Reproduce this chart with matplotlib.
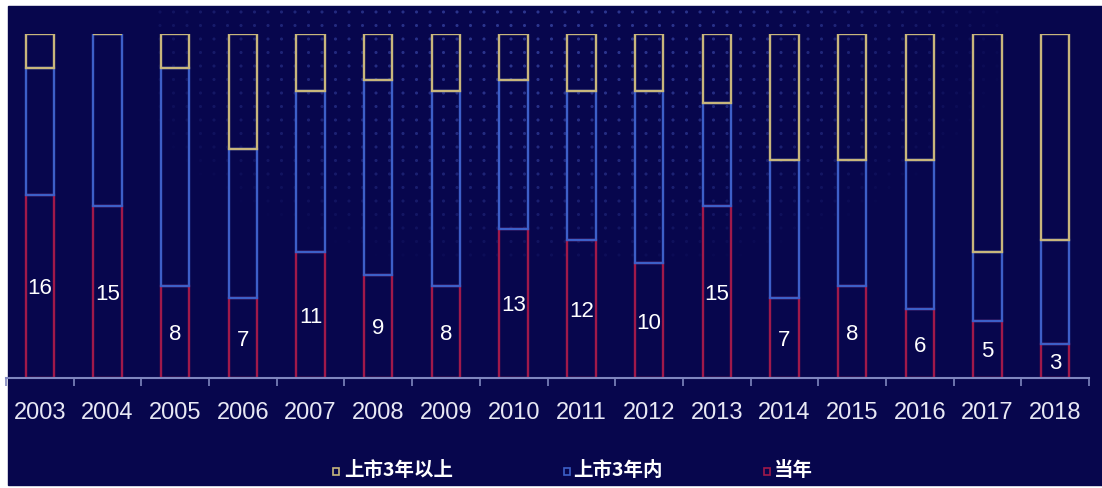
import numpy as np
import matplotlib
matplotlib.use("Agg")
from matplotlib import pyplot as plt
from matplotlib.patches import Rectangle

plt.rcParams["font.family"] = ["Liberation Sans", "Noto Sans CJK SC", "DejaVu Sans"]

years = ["2003", "2004", "2005", "2006", "2007", "2008", "2009", "2010",
         "2011", "2012", "2013", "2014", "2015", "2016", "2017", "2018"]
# counts out of the top 30 each year
new_year = [16, 15, 8, 7, 11, 9, 8, 13, 12, 10, 15, 7, 8, 6, 5, 3]
within_3y = [11, 15, 19, 13, 14, 17, 17, 13, 13, 15, 9, 12, 11, 13, 6, 9]
over_3y = [3, 0, 3, 10, 5, 4, 5, 4, 5, 5, 6, 11, 11, 11, 19, 18]
legend_labels = ["上市3年以上", "上市3年内", "当年"]

BG = "#07064d"
C_RED = "#a0194a"
C_BLUE = "#3d5fc8"
C_YEL = "#c8b67c"
W, H = 1102, 488

fig = plt.figure(figsize=(W / 100, H / 100), dpi=100, facecolor="white")

# dark panel plus a faint dotted texture in its upper part
bg = fig.add_axes([0, 0, 1, 1], zorder=0)
bg.set_xlim(0, W)
bg.set_ylim(H, 0)
bg.axis("off")
bg.add_patch(Rectangle((8, 6), W - 8, 485 - 6, color=BG, zorder=0))
gx, gy = np.meshgrid(np.arange(160, 1010, 13.5), np.arange(12, 260, 13.5))
fade = np.clip(1 - ((gx - 560) / 460) ** 2 - ((gy - 20) / 260) ** 2, 0, 1)
bg.scatter(gx.ravel(), gy.ravel(), s=5, color="#4050b4", alpha=0.65 * fade.ravel(),
           linewidths=0, zorder=1)

ax = fig.add_axes([6 / W, 1 - 378 / H, (1089 - 6) / W, (378 - 34) / H], zorder=2)
ax.patch.set_alpha(0)
x = np.arange(len(years))
bw = 0.42
lw = 1.7

red = np.array(new_year)
blue = np.array(within_3y)
yel = np.array(over_3y)

ax.bar(x, red, bw, facecolor="none", edgecolor=C_RED, linewidth=lw)
ax.bar(x, blue, bw, bottom=red, facecolor="none", edgecolor=C_BLUE, linewidth=lw)
ax.bar(x, yel, bw, bottom=red + blue, facecolor="none", edgecolor=C_YEL, linewidth=lw)

for xi, v in zip(x, red):
    ax.text(xi, v / 2, str(v), ha="center", va="center_baseline", color="white", fontsize=16)

ax.set_xlim(-0.5, len(years) - 0.5)
ax.set_ylim(0, 30)
ax.set_yticks([])
for s in ["top", "right", "left"]:
    ax.spines[s].set_visible(False)
ax.spines["bottom"].set_color("#7f86bf")
ax.spines["bottom"].set_linewidth(1.5)
ax.spines["bottom"].set_zorder(5)

ax.set_xticks(x)
ax.set_xticklabels(years, fontsize=17, color="#e8e8f4")
ax.tick_params(axis="x", which="major", length=0, pad=17)
ax.set_xticks(np.arange(-0.5, len(years), 1), minor=True)
ax.tick_params(axis="x", which="minor", length=6, width=1.2, color="#7f86bf", direction="out")

# legend along the bottom
leg_y = 1 - 471 / H
for (mx, tx), lab, c in zip([(336, 344), (567, 573), (767, 774)], legend_labels,
                             [C_YEL, C_BLUE, C_RED]):
    fig.patches.append(Rectangle(((mx - 3) / W, leg_y - 3.5 / H), 6 / W, 7 / H,
                                 transform=fig.transFigure, facecolor="none",
                                 edgecolor=c, linewidth=1.2, zorder=3))
    fig.text(tx / W, leg_y, lab, ha="left", va="center", color="white", fontsize=14,
             fontweight="bold", family=["Noto Sans CJK SC", "DejaVu Sans"], zorder=3)

fig.savefig("out.png", dpi=100, facecolor="white")
